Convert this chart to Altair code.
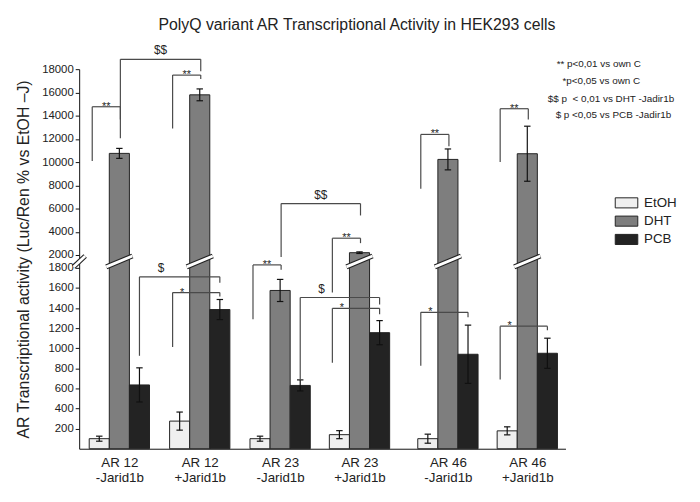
import altair as alt
import pandas as pd

# ---------------- data ----------------
group_line1 = ["AR 12", "AR 12", "AR 23", "AR 23", "AR 46", "AR 46"]
group_line2 = ["-Jarid1b", "+Jarid1b", "-Jarid1b", "+Jarid1b", "-Jarid1b", "+Jarid1b"]
treatments = ["EtOH", "DHT", "PCB"]

etoh_mean = [100, 275, 100, 140, 100, 178]
etoh_err = [25, 90, 25, 40, 45, 40]
dht_mean = [10750, 15790, 1575, 2200, 10230, 10720]
dht_err = [430, 510, 110, 70, 900, 2370]
pcb_mean = [635, 1385, 630, 1155, 940, 950]
pcb_err = [170, 100, 55, 120, 290, 150]

# significance brackets: label, group/treatment of left leg, group/treatment of right leg,
# value at bottom of left leg, value of bracket top, value at bottom of right leg
br_label = ["**", "**", "$$", "**", "**", "$$", "**", "**", "$", "*", "$", "*", "*", "*"]
br_left_group = [0, 1, 0, 2, 3, 2, 4, 5, 0, 1, 2, 3, 4, 5]
br_left_treat = ["EtOH", "EtOH", "DHT", "EtOH", "EtOH", "DHT", "EtOH", "EtOH", "PCB", "EtOH", "PCB", "EtOH", "EtOH", "EtOH"]
br_right_group = [0, 1, 1, 2, 3, 3, 4, 5, 1, 1, 3, 3, 4, 5]
br_right_treat = ["DHT", "DHT", "DHT", "DHT", "DHT", "DHT", "DHT", "DHT", "PCB", "PCB", "PCB", "PCB", "PCB", "PCB"]
br_left_bottom = [10085, 12893, 12042, 1289, 1554, 1969, 7702, 9999, 925, 1013, 679, 856, 826, 689]
br_top = [14765, 17488, 18850, 1846, 3447, 6425, 12382, 14595, 1711, 1554, 1505, 1397, 1357, 1220]
br_right_bottom = [13660, 17148, 17829, 1780, 3021, 5404, 11361, 13659, 1652, 1515, 1436, 1338, 1308, 1180]

note_lines = [
    "** p<0,01 vs own C",
    "*p<0,05 vs own C",
    "$$ p \u00a0< 0,01 vs DHT -Jadir1b",
    "$ p <0,05 vs PCB -Jadir1b",
]
note_values = [18424, 16978, 15446, 14084]

title_text = "PolyQ variant AR Transcriptional Activity in HEK293 cells"
y_title = "AR Transcriptional activity (Luc/Ren % vs EtOH \u2013J)"
y_tick_values = [200, 400, 600, 800, 1000, 1200, 1400, 1600, 1800,
                 2000, 4000, 6000, 8000, 10000, 12000, 14000, 16000, 18000]

# ---------------- layout (positions, sizes, styles) ----------------
group_centers = [2.0, 6.0, 10.0, 13.95, 18.35, 22.3]
treat_offset = {"EtOH": -1.0, "DHT": 0.0, "PCB": 1.0}
bar_half = 0.5
cap_half = 0.16
leg_shift = {"EtOH": -0.35, "DHT": 0.05, "PCB": 0.0}
label_frac = {"**": 0.5, "$$": 0.5, "*": 0.2, "$": 0.27}
note_x = [23.76, 24.05, 23.32, 23.71]
break_lo, break_hi = 1815, 1985
colors = ["#efefef", "#7e7e7e", "#232323"]
FONT = "Liberation Sans"

W, H = 492, 384
x_scale = alt.Scale(domain=[0, 24.2], nice=False, zero=False)
y_scale = alt.Scale(domain=[0, 1800, 2000, 18000], range=[H, 201, 188, 0],
                    nice=False, zero=False)

# ---------------- tables ----------------
means = {"EtOH": etoh_mean, "DHT": dht_mean, "PCB": pcb_mean}
errs = {"EtOH": etoh_err, "DHT": dht_err, "PCB": pcb_err}
rows = []
for g in range(len(group_centers)):
    for t in treatments:
        xc = group_centers[g] + treat_offset[t]
        m, e = means[t][g], errs[t][g]
        rows.append(dict(group=g, treatment=t, mean=m, err=e, xc=xc,
                         x0=xc - bar_half, x1=xc + bar_half, lo=m - e, hi=m + e,
                         c0=xc - cap_half, c1=xc + cap_half))
bars = pd.DataFrame(rows)

brk = bars[bars["mean"] > 2000].copy()
brk["bx0"] = brk["x0"] - 0.15
brk["bx1"] = brk["x1"] + 0.15
brk = pd.concat([brk[["bx0", "bx1"]],
                 pd.DataFrame({"bx0": [-0.28], "bx1": [0.3]})], ignore_index=True)
brk["by0"] = break_lo
brk["by1"] = break_hi

segs, labels = [], []
for i, lab in enumerate(br_label):
    L = group_centers[br_left_group[i]] + treat_offset[br_left_treat[i]] + leg_shift[br_left_treat[i]]
    R = group_centers[br_right_group[i]] + treat_offset[br_right_treat[i]] + leg_shift[br_right_treat[i]]
    top = br_top[i]
    segs.append(dict(xa=L, xb=L, ya=br_left_bottom[i], yb=top))
    segs.append(dict(xa=L, xb=R, ya=top, yb=top))
    segs.append(dict(xa=R, xb=R, ya=top, yb=br_right_bottom[i]))
    labels.append(dict(label=lab, lx=L + label_frac[lab] * (R - L), ly=top,
                       kind="star" if "*" in lab else "dollar"))
segs = pd.DataFrame(segs)
labels = pd.DataFrame(labels)
notes = pd.DataFrame({"text": note_lines, "nx": note_x, "ny": note_values})

# x-axis labels: two lines per group
label_arrays = ",".join("['%s','%s']" % (a, b) for a, b in zip(group_line1, group_line2))
centers_js = "[" + ",".join(repr(c) for c in group_centers) + "]"
x_label_expr = "[%s][indexof(%s, datum.value)]" % (label_arrays, centers_js)

x_axis = alt.Axis(values=group_centers, labelExpr=x_label_expr, ticks=False,
                  grid=False, title=None, domainColor="#111111",
                  labelFontSize=13.5, labelFont=FONT, labelColor="#222222",
                  labelPadding=7, labelLineHeight=15.5, labelOverlap=False,
                  labelFlush=False)
y_axis = alt.Axis(values=y_tick_values, format="d", grid=False, title=y_title,
                  titleFontSize=16, titleFont=FONT, titleFontWeight="normal",
                  titleColor="#222222", titlePadding=10,
                  labelFontSize=11.5, labelFont=FONT, labelColor="#222222",
                  labelOverlap=False, tickSize=4, tickColor="#111111",
                  domainColor="#111111", labelPadding=2)


def X(field):
    return alt.X(field, scale=x_scale, axis=x_axis)


def Y(field):
    return alt.Y(field, scale=y_scale, axis=y_axis)


# ---------------- chart ----------------
bar_layer = alt.Chart(bars).mark_bar(stroke="#222222", strokeWidth=1).encode(
    x=X("x0:Q"), x2="x1:Q", y=Y("mean:Q"), y2=alt.datum(0),
    color=alt.Color("treatment:N", sort=treatments,
                    scale=alt.Scale(domain=treatments, range=colors),
                    legend=alt.Legend(title=None, orient="none", legendX=547, legendY=128.5,
                                      symbolType="M-1.9,-0.85H1.9V0.85H-1.9Z",
                                      symbolSize=144, symbolStrokeColor="#222222",
                                      symbolStrokeWidth=1, symbolOpacity=1,
                                      labelFontSize=13.5, labelFont=FONT,
                                      labelColor="#222222", labelOffset=11,
                                      rowPadding=3.5, padding=0)),
)

break_black = alt.Chart(brk).mark_rule(color="#222222", strokeWidth=5).encode(
    x=X("bx0:Q"), x2="bx1:Q", y=Y("by0:Q"), y2="by1:Q")
break_white = alt.Chart(brk).mark_rule(color="white", strokeWidth=2.8).encode(
    x=X("bx0:Q"), x2="bx1:Q", y=Y("by0:Q"), y2="by1:Q")

err_line = alt.Chart(bars).mark_rule(color="#111111", strokeWidth=1.2).encode(
    x=X("xc:Q"), y=Y("lo:Q"), y2="hi:Q")
cap_hi = alt.Chart(bars).mark_rule(color="#111111", strokeWidth=1.2).encode(
    x=X("c0:Q"), x2="c1:Q", y=Y("hi:Q"))
cap_lo = alt.Chart(bars).mark_rule(color="#111111", strokeWidth=1.2).encode(
    x=X("c0:Q"), x2="c1:Q", y=Y("lo:Q"))

bracket_layer = alt.Chart(segs).mark_rule(color="#4a4a4a", strokeWidth=1.2).encode(
    x=X("xa:Q"), x2="xb:Q", y=Y("ya:Q"), y2="yb:Q")

star_text = alt.Chart(labels).transform_filter(alt.datum.kind == "star").mark_text(
    font=FONT, fontSize=11, color="#222222", baseline="alphabetic", align="center", dy=3
).encode(x=X("lx:Q"), y=Y("ly:Q"), text="label:N")
dollar_text = alt.Chart(labels).transform_filter(alt.datum.kind == "dollar").mark_text(
    font=FONT, fontSize=12, color="#222222", baseline="alphabetic", align="center", dy=-5
).encode(x=X("lx:Q"), y=Y("ly:Q"), text="label:N")

note_text = alt.Chart(notes).mark_text(
    font=FONT, fontSize=10, color="#222222", baseline="middle", align="left"
).encode(x=X("nx:Q"), y=Y("ny:Q"), text="text:N")

chart = alt.layer(
    bar_layer, break_black, break_white, err_line, cap_hi, cap_lo,
    bracket_layer, star_text, dollar_text, note_text
).properties(
    width=W, height=H,
    title=alt.TitleParams(title_text, fontSize=16, font=FONT, fontWeight="normal",
                          color="#222222", anchor="middle", dx=35, offset=12),
    autosize=alt.AutoSizeParams(type="none"),
    padding={"left": 72, "top": 59, "right": 128, "bottom": 51},
).configure_view(stroke=None)

chart.save("out.html", embed_options={"renderer": "svg", "actions": False})
